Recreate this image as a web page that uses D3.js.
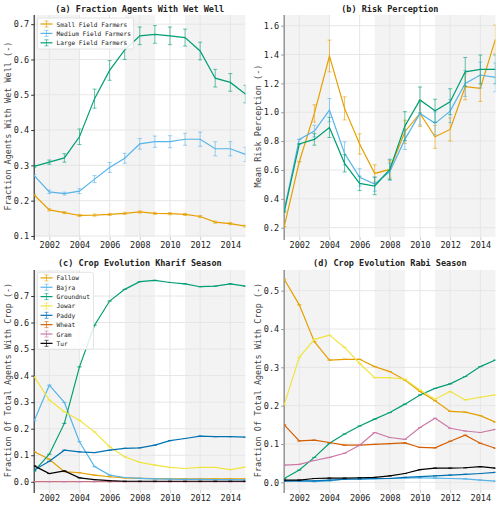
<!DOCTYPE html>
<html><head><meta charset="utf-8">
<script src="https://cdn.jsdelivr.net/npm/d3@7"></script>
<style>
body{margin:0;background:#fff;}
svg{display:block;font-family:"DejaVu Sans Mono",monospace;}
</style></head>
<body><svg id="c" width="500" height="508"></svg>
<script>
const years = d3.range(2001, 2016);
const shadedPeriods = [[2001, 2004], [2007, 2009], [2011, 2015]];
const xTickYears = [2002, 2004, 2006, 2008, 2010, 2012, 2014];

// (a) Fraction agents with wet well
const wellSmall  = [0.216,0.174,0.166,0.158,0.159,0.161,0.164,0.168,0.164,0.163,0.161,0.155,0.139,0.135,0.128];
const wellSmallErr = [0.002,0.003,0.003,0.003,0.003,0.003,0.003,0.003,0.003,0.003,0.003,0.003,0.003,0.003,0.003];
const wellMedium = [0.271,0.225,0.220,0.227,0.261,0.294,0.320,0.361,0.367,0.367,0.374,0.374,0.347,0.347,0.331];
const wellMediumErr = [0.003,0.005,0.004,0.007,0.010,0.014,0.014,0.015,0.016,0.017,0.017,0.020,0.020,0.020,0.020];
const wellLarge  = [0.297,0.309,0.321,0.381,0.489,0.569,0.627,0.667,0.671,0.667,0.662,0.624,0.547,0.535,0.502];
const wellLargeErr = [0.003,0.006,0.012,0.022,0.027,0.028,0.027,0.025,0.025,0.025,0.024,0.025,0.025,0.025,0.025];

// (b) Mean risk perception
const riskSmall  = [0.207,0.657,0.992,1.390,1.027,0.780,0.576,0.604,0.865,0.992,0.830,0.881,1.177,1.165,1.505];
const riskSmallErr = [0.00,0.00,0.06,0.11,0.08,0.07,0.06,0.06,0.08,0.09,0.08,0.08,0.09,0.09,0.10];
const riskMedium = [0.322,0.812,0.870,1.015,0.715,0.549,0.503,0.588,0.812,0.992,0.923,1.008,1.200,1.258,1.242];
const riskMediumErr = [0.00,0.00,0.04,0.08,0.08,0.06,0.05,0.06,0.07,0.08,0.08,0.08,0.09,0.09,0.10];
const riskLarge  = [0.309,0.780,0.812,0.895,0.646,0.507,0.489,0.604,0.904,1.085,1.010,1.073,1.280,1.297,1.297];
const riskLargeErr = [0.00,0.00,0.04,0.07,0.06,0.05,0.06,0.07,0.10,0.09,0.08,0.09,0.10,0.10,0.10];

// (c) Kharif season crop fractions
const kharifFallow    = [0.113,0.085,0.038,0.034,0.025,0.019,0.015,0.013,0.012,0.011,0.011,0.011,0.011,0.011,0.011];
const kharifBajra     = [0.230,0.364,0.299,0.151,0.057,0.025,0.016,0.013,0.011,0.010,0.009,0.009,0.008,0.008,0.007];
const kharifGroundnut = [0.040,0.104,0.220,0.433,0.590,0.681,0.725,0.754,0.759,0.751,0.746,0.735,0.737,0.746,0.737];
const kharifJowar     = [0.396,0.308,0.264,0.232,0.188,0.132,0.094,0.073,0.063,0.054,0.050,0.054,0.054,0.046,0.055];
const kharifPaddy     = [0.044,0.077,0.119,0.113,0.110,0.119,0.126,0.128,0.138,0.155,0.163,0.172,0.170,0.170,0.168];
const kharifWheat     = [0.001,0.001,0.001,0.001,0.001,0.001,0.001,0.001,0.001,0.001,0.001,0.001,0.001,0.001,0.001];
const kharifGram      = [0.000,0.000,0.000,0.000,0.000,0.000,0.000,0.000,0.000,0.000,0.000,0.000,0.000,0.000,0.000];
const kharifTur       = [0.060,0.031,0.041,0.015,0.008,0.004,0.002,0.002,0.002,0.002,0.002,0.002,0.002,0.002,0.002];

// (d) Rabi season crop fractions
const rabiFallow    = [0.530,0.463,0.367,0.319,0.321,0.321,0.302,0.289,0.267,0.237,0.213,0.185,0.183,0.174,0.157];
const rabiBajra     = [0.004,0.004,0.002,0.004,0.008,0.008,0.009,0.010,0.011,0.012,0.011,0.010,0.009,0.006,0.003];
const rabiGroundnut = [0.010,0.032,0.065,0.102,0.126,0.147,0.165,0.182,0.204,0.228,0.245,0.257,0.276,0.302,0.319];
const rabiJowar     = [0.202,0.326,0.373,0.384,0.352,0.310,0.273,0.273,0.269,0.241,0.217,0.237,0.215,0.222,0.228];
const rabiPaddy     = [0.003,0.004,0.004,0.006,0.008,0.009,0.010,0.010,0.013,0.015,0.017,0.019,0.021,0.023,0.026];
const rabiWheat     = [0.150,0.108,0.110,0.104,0.097,0.097,0.099,0.101,0.103,0.091,0.090,0.107,0.123,0.102,0.089];
const rabiGram      = [0.045,0.047,0.057,0.065,0.076,0.097,0.130,0.117,0.112,0.143,0.167,0.141,0.134,0.130,0.138];
const rabiTur       = [0.006,0.006,0.010,0.011,0.011,0.012,0.013,0.017,0.023,0.033,0.037,0.037,0.038,0.041,0.037];

const farmerNames = ["Small Field Farmers", "Medium Field Farmers", "Large Field Farmers"];
const farmerColors = ["#E69F00", "#56B4E9", "#009E73"];
const cropNames = ["Fallow", "Bajra", "Groundnut", "Jowar", "Paddy", "Wheat", "Gram", "Tur"];
const cropColors = ["#E69F00", "#56B4E9", "#009E73", "#F0E442", "#0072B2", "#D55E00", "#CC79A7", "#000000"];

const svg = d3.select("#c");

function panel(cfg) {
  const g = svg.append("g");
  const x = d3.scaleLinear().domain([2001, 2015]).range([cfg.left, cfg.right]);
  const y = d3.scaleLinear().domain(cfg.yDomain).range([cfg.bottom, cfg.top]);
  const clipId = "clip" + cfg.id;
  svg.append("clipPath").attr("id", clipId).append("rect")
    .attr("x", cfg.left).attr("y", cfg.top).attr("width", cfg.right - cfg.left).attr("height", cfg.bottom - cfg.top);
  // shaded periods
  g.selectAll("rect.sh").data(shadedPeriods).join("rect")
    .attr("x", d => x(d[0])).attr("width", d => x(d[1]) - x(d[0]))
    .attr("y", cfg.top).attr("height", cfg.bottom - cfg.top).attr("fill", "#f3f3f3");
  // grid
  g.selectAll("line.gx").data(xTickYears).join("line")
    .attr("x1", d => x(d)).attr("x2", d => x(d)).attr("y1", cfg.top).attr("y2", cfg.bottom)
    .attr("stroke", "#e6e6e6").attr("stroke-width", 1);
  g.selectAll("line.gy").data(cfg.yTicks).join("line")
    .attr("y1", d => y(d)).attr("y2", d => y(d)).attr("x1", cfg.left).attr("x2", cfg.right)
    .attr("stroke", "#e6e6e6").attr("stroke-width", 1);
  // x axis
  const xa = g.append("g").attr("transform", `translate(0,${cfg.bottom})`)
    .call(d3.axisBottom(x).tickValues(xTickYears).tickFormat(d3.format("d")).tickSize(3).tickPadding(2));
  xa.select(".domain").remove();
  xa.selectAll("line").attr("stroke", "#cccccc");
  xa.selectAll("text").attr("font-size", "8.5px").attr("fill", "#222").attr("font-family", "DejaVu Sans Mono");
  // y axis
  const ya = g.append("g").attr("transform", `translate(${cfg.left},0)`)
    .call(d3.axisLeft(y).tickValues(cfg.yTicks).tickFormat(d3.format(".1f")).tickSize(3).tickPadding(2));
  ya.select(".domain").attr("stroke", cfg.spine).attr("stroke-width", cfg.spineW)
    .attr("d", `M0,${cfg.top}V${cfg.bottom + 3}`);
  ya.selectAll("line").attr("stroke", cfg.spine);
  ya.selectAll("text").attr("font-size", "8.5px").attr("fill", "#222").attr("font-family", "DejaVu Sans Mono");
  // labels
  g.append("text").attr("x", (cfg.left + cfg.right) / 2).attr("y", cfg.titleY)
    .attr("text-anchor", "middle").attr("font-size", "8.5px").attr("font-weight", "bold").attr("fill", "#222")
    .text(cfg.title);
  g.append("text").attr("transform", `translate(${cfg.labelX},${(cfg.top + cfg.bottom) / 2}) rotate(-90)`)
    .attr("text-anchor", "middle").attr("dominant-baseline", "central").attr("font-size", "8.5px").attr("fill", "#444")
    .text(cfg.ylabel);
  // series
  const plot = g.append("g").attr("clip-path", `url(#${clipId})`);
  const line = d3.line().x((d, i) => x(years[i])).y(d => y(d));
  cfg.series.forEach((s, k) => {
    const col = cfg.colors[k];
    const eg = plot.append("g").attr("stroke", col).attr("stroke-opacity", 0.6).attr("stroke-width", 1);
    s.values.forEach((v, i) => {
      const e = s.err ? s.err[i] : 0;
      const xx = x(years[i]);
      eg.append("line").attr("x1", xx).attr("x2", xx).attr("y1", y(v - e)).attr("y2", y(v + e));
      eg.append("line").attr("x1", xx - 2).attr("x2", xx + 2).attr("y1", y(v - e)).attr("y2", y(v - e));
      eg.append("line").attr("x1", xx - 2).attr("x2", xx + 2).attr("y1", y(v + e)).attr("y2", y(v + e));
    });
    plot.append("path").datum(s.values).attr("d", line).attr("fill", "none")
      .attr("stroke", col).attr("stroke-width", 1.2);
  });
  // legend
  if (cfg.legend) {
    const L = cfg.legend;
    const lg = g.append("g");
    lg.append("rect").attr("x", L.x).attr("y", L.y).attr("width", L.w).attr("height", L.h)
      .attr("rx", 2).attr("fill", "#fff").attr("fill-opacity", 0.85).attr("stroke", "#dddddd").attr("stroke-width", 0.8);
    L.names.forEach((n, i) => {
      const yy = L.y + L.first + i * L.step;
      const col = cfg.colors[i];
      const ig = lg.append("g").attr("stroke", col);
      ig.append("line").attr("x1", L.x + 3).attr("x2", L.x + 15).attr("y1", yy).attr("y2", yy).attr("stroke-width", 1.2);
      ig.append("line").attr("x1", L.x + 9).attr("x2", L.x + 9).attr("y1", yy - 3).attr("y2", yy + 3).attr("stroke-opacity", 0.6);
      ig.append("line").attr("x1", L.x + 7).attr("x2", L.x + 11).attr("y1", yy - 3).attr("y2", yy - 3).attr("stroke-opacity", 0.6);
      ig.append("line").attr("x1", L.x + 7).attr("x2", L.x + 11).attr("y1", yy + 3).attr("y2", yy + 3).attr("stroke-opacity", 0.6);
      lg.append("text").attr("x", L.x + 19).attr("y", yy).attr("dominant-baseline", "central")
        .attr("font-size", "6.2px").attr("fill", "#222").text(n);
    });
  }
}

panel({
  id: "a", left: 34.2, right: 245.4, top: 15, bottom: 237, yDomain: [0.097, 0.726],
  yTicks: [0.1, 0.2, 0.3, 0.4, 0.5, 0.6, 0.7], spine: "#333", spineW: 1.2,
  title: "(a) Fraction Agents With Wet Well", titleY: 12, labelX: 8,
  ylabel: "Fraction Agents With Wet Well (-)", colors: farmerColors,
  series: [{values: wellSmall, err: wellSmallErr}, {values: wellMedium, err: wellMediumErr}, {values: wellLarge, err: wellLargeErr}],
  legend: {x: 37.5, y: 18, w: 96, h: 31, first: 6, step: 9.4, names: farmerNames}
});
panel({
  id: "b", left: 284.2, right: 495.4, top: 15, bottom: 237, yDomain: [0.1355, 1.674],
  yTicks: [0.2, 0.4, 0.6, 0.8, 1.0, 1.2, 1.4, 1.6], spine: "#999", spineW: 1.6,
  title: "(b) Risk Perception", titleY: 12, labelX: 258,
  ylabel: "Mean Risk Perception (-)", colors: farmerColors,
  series: [{values: riskSmall, err: riskSmallErr}, {values: riskMedium, err: riskMediumErr}, {values: riskLarge, err: riskLargeErr}]
});
panel({
  id: "c", left: 34.2, right: 245.4, top: 270, bottom: 490, yDomain: [-0.031, 0.798],
  yTicks: [0.0, 0.1, 0.2, 0.3, 0.4, 0.5, 0.6, 0.7], spine: "#333", spineW: 1.2,
  title: "(c) Crop Evolution Kharif Season", titleY: 266, labelX: 8,
  ylabel: "Fraction Of Total Agents With Crop (-)", colors: cropColors,
  series: [kharifFallow, kharifBajra, kharifGroundnut, kharifJowar, kharifPaddy, kharifWheat, kharifGram, kharifTur].map(v => ({values: v})),
  legend: {x: 37.5, y: 272.3, w: 56, h: 77, first: 5.6, step: 9.35, names: cropNames}
});
panel({
  id: "d", left: 284.2, right: 495.4, top: 270, bottom: 490, yDomain: [-0.020, 0.554],
  yTicks: [0.0, 0.1, 0.2, 0.3, 0.4, 0.5], spine: "#999", spineW: 1.6,
  title: "(d) Crop Evolution Rabi Season", titleY: 266, labelX: 258,
  ylabel: "Fraction Of Total Agents With Crop (-)", colors: cropColors,
  series: [rabiFallow, rabiBajra, rabiGroundnut, rabiJowar, rabiPaddy, rabiWheat, rabiGram, rabiTur].map(v => ({values: v}))
});
</script></body></html>
